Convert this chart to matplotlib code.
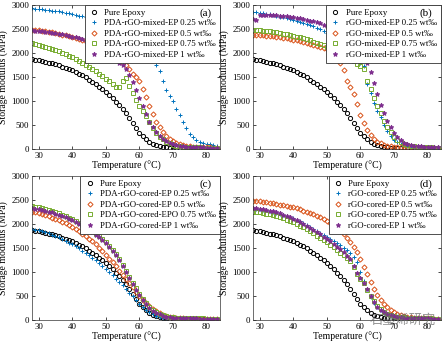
import matplotlib
matplotlib.use("Agg")
import matplotlib.pyplot as plt

plt.rcParams['font.family'] = ['Liberation Serif', 'DejaVu Serif']

temps = [28, 29, 30, 31, 32, 33, 34, 35, 36, 37,
         38, 39, 40, 41, 42, 43, 44, 45, 46, 47,
         48, 49, 50, 51, 52, 53, 54, 55, 56, 57,
         58, 59, 60, 61, 62, 63, 64, 65, 66, 67,
         68, 69, 70, 71, 72, 73, 74, 75, 76, 77,
         78, 79, 80, 81, 82, 83]

pure_epoxy = [1865, 1855, 1845, 1830, 1815, 1800, 1782, 1762, 1740, 1717,
              1692, 1665, 1636, 1604, 1570, 1533, 1493, 1445, 1398, 1350,
              1298, 1243, 1185, 1122, 1056, 986, 912, 835, 745, 645,
              535, 430, 340, 262, 198, 148, 110, 82, 61, 46,
              36, 29, 24, 20, 18, 16, 15, 14, 13, 12,
              12, 11, 11, 10, 10, 10]

# (a) PDA-rGO-mixed
a_025 = [2930, 2925, 2918, 2912, 2905, 2895, 2885, 2875, 2865, 2855,
         2840, 2825, 2810, 2795, 2780, 2765, 2750, 2735, 2720, 2705,
         2685, 2665, 2645, 2620, 2595, 2565, 2535, 2500, 2460, 2420,
         2380, 2330, 2270, 2200, 2120, 2030, 1910, 1760, 1620, 1420,
         1230, 1110, 990, 840, 700, 560, 440, 320, 240, 190,
         155, 130, 111, 95, 80, 72]
a_05 = [2480, 2475, 2470, 2460, 2450, 2440, 2428, 2415, 2400, 2385,
        2370, 2355, 2335, 2315, 2295, 2272, 2248, 2222, 2195, 2165,
        2132, 2096, 2056, 2012, 1965, 1912, 1855, 1800, 1740, 1660,
        1570, 1490, 1410, 1250, 1080, 900, 720, 570, 458, 350,
        270, 210, 165, 130, 105, 85, 70, 60, 52, 46,
        42, 38, 35, 33, 31, 30]
a_075 = [2200, 2185, 2170, 2150, 2130, 2110, 2085, 2060, 2035, 2005,
         1975, 1945, 1910, 1875, 1840, 1800, 1760, 1715, 1670, 1620,
         1570, 1520, 1465, 1410, 1350, 1300, 1290, 1420, 1470, 1310,
         1160, 1020, 900, 800, 680, 560, 440, 340, 260, 200,
         150, 115, 90, 72, 60, 52, 46, 42, 38, 35,
         33, 31, 29, 28, 27, 26]
a_1 = [2470, 2466, 2460, 2453, 2445, 2436, 2426, 2415, 2403, 2390,
       2376, 2360, 2343, 2325, 2305, 2283, 2260, 2234, 2207, 2177,
       2144, 2108, 2068, 2024, 1960, 1880, 1790, 1750, 1670, 1540,
       1400, 1220, 1056, 900, 730, 570, 450, 350, 270, 205,
       160, 125, 100, 82, 68, 58, 50, 45, 40, 37,
       34, 32, 30, 29, 28, 27]

# (b) rGO-mixed
b_025 = [2850, 2845, 2835, 2825, 2815, 2805, 2790, 2775, 2760, 2745,
         2730, 2712, 2695, 2675, 2655, 2632, 2608, 2582, 2555, 2525,
         2492, 2455, 2415, 2372, 2325, 2275, 2220, 2160, 2095, 2020,
         1940, 1850, 1790, 1730, 1350, 1160, 960, 800, 670, 490,
         370, 270, 190, 140, 105, 80, 65, 55, 48, 43,
         39, 36, 33, 31, 29, 27]
b_05 = [2380, 2378, 2375, 2370, 2364, 2357, 2349, 2340, 2330, 2319,
        2307, 2294, 2280, 2265, 2249, 2232, 2214, 2195, 2175, 2154,
        2132, 2108, 2083, 2055, 2010, 1940, 1800, 1650, 1420, 1300,
        1150, 930, 710, 540, 400, 290, 210, 155, 115, 90,
        72, 60, 52, 46, 42, 38, 35, 33, 31, 29,
        28, 27, 26, 25, 24, 23]
b_075 = [2480, 2477, 2472, 2466, 2459, 2450, 2440, 2430, 2418, 2405,
         2391, 2376, 2360, 2343, 2325, 2305, 2284, 2262, 2238, 2213,
         2187, 2159, 2130, 2099, 2066, 2031, 1994, 1955, 1914, 1870,
         1823, 1773, 1720, 1670, 1420, 1240, 1060, 900, 740, 590,
         460, 350, 260, 190, 140, 105, 80, 65, 55, 48,
         43, 39, 36, 33, 31, 29]
b_1 = [2700, 2690, 2800, 2798, 2795, 2792, 2788, 2783, 2777, 2770,
       2762, 2753, 2743, 2732, 2720, 2707, 2692, 2676, 2658, 2638,
       2616, 2592, 2566, 2537, 2505, 2470, 2430, 2385, 2335, 2278,
       2214, 2140, 2055, 1960, 1800, 1600, 1370, 1140, 910, 750,
       580, 450, 340, 250, 180, 135, 105, 85, 72, 62,
       55, 50, 46, 42, 40, 38]

# (c) PDA-rGO-cored
c_025 = [1900, 1885, 1870, 1850, 1830, 1805, 1780, 1750, 1720, 1685,
         1650, 1612, 1573, 1532, 1490, 1446, 1400, 1352, 1300, 1245,
         1188, 1128, 1065, 1000, 933, 864, 793, 720, 645, 568,
         490, 412, 338, 270, 210, 160, 120, 90, 68, 52,
         40, 32, 27, 23, 20, 18, 16, 15, 14, 13,
         12, 12, 11, 11, 10, 10]
c_05 = [2250, 2240, 2225, 2205, 2183, 2160, 2135, 2108, 2078, 2046,
        2012, 1975, 1935, 1893, 1848, 1800, 1750, 1697, 1641, 1582,
        1500, 1430, 1355, 1280, 1200, 1115, 1030, 945, 860, 770,
        680, 590, 505, 425, 350, 285, 230, 182, 142, 110,
        85, 66, 53, 44, 38, 33, 30, 28, 26, 25,
        24, 23, 22, 22, 21, 21]
c_075 = [2370, 2360, 2345, 2328, 2310, 2290, 2268, 2245, 2220, 2193,
         2164, 2133, 2100, 2064, 2026, 1985, 1941, 1894, 1850, 1800,
         1745, 1685, 1620, 1545, 1460, 1365, 1262, 1150, 1030, 905,
         780, 660, 545, 440, 350, 275, 215, 168, 132, 105,
         85, 70, 60, 52, 47, 43, 40, 38, 36, 34,
         33, 32, 31, 30, 30, 29]
c_1 = [2330, 2322, 2310, 2295, 2278, 2260, 2240, 2218, 2194, 2168,
       2140, 2110, 2078, 2043, 2006, 1966, 1923, 1877, 1830, 1780,
       1725, 1665, 1600, 1525, 1440, 1345, 1240, 1125, 1000, 870,
       745, 625, 515, 415, 328, 255, 195, 150, 115, 90,
       72, 60, 51, 45, 41, 38, 36, 34, 33, 32,
       31, 30, 30, 29, 29, 28]

# (d) rGO-cored
d_025 = [2330, 2322, 2312, 2300, 2287, 2272, 2256, 2238, 2218, 2196,
         2172, 2146, 2118, 2088, 2055, 2020, 1983, 1944, 1903, 1860,
         1815, 1768, 1720, 1680, 1640, 1600, 1555, 1510, 1460, 1400,
         1320, 1200, 1000, 810, 640, 480, 360, 270, 200, 150,
         115, 90, 72, 60, 52, 46, 42, 39, 36, 34,
         32, 31, 30, 29, 28, 27]
d_05 = [2480, 2476, 2470, 2462, 2453, 2443, 2432, 2420, 2406, 2391,
        2376, 2361, 2345, 2325, 2303, 2280, 2255, 2228, 2200, 2170,
        2138, 2102, 2062, 2018, 1968, 1912, 1850, 1782, 1710, 1632,
        1520, 1410, 1278, 1110, 950, 790, 650, 530, 424, 335,
        262, 205, 160, 125, 100, 80, 66, 56, 49, 44,
        40, 37, 35, 33, 31, 30]
d_075 = [2260, 2252, 2242, 2230, 2216, 2200, 2182, 2162, 2140, 2116,
         2090, 2062, 2032, 2000, 1965, 1928, 1889, 1848, 1805, 1760,
         1713, 1664, 1615, 1565, 1513, 1460, 1405, 1350, 1290, 1225,
         1100, 960, 860, 770, 630, 500, 390, 300, 230, 175,
         135, 105, 85, 70, 60, 53, 48, 44, 41, 38,
         36, 34, 33, 32, 31, 30]
d_1 = [2340, 2332, 2322, 2310, 2296, 2280, 2262, 2242, 2220, 2196,
       2170, 2142, 2112, 2080, 2045, 2008, 1968, 1926, 1882, 1836,
       1787, 1736, 1690, 1640, 1585, 1530, 1470, 1410, 1340, 1270,
       1120, 980, 870, 780, 640, 490, 370, 280, 210, 160,
       122, 95, 76, 63, 54, 48, 44, 41, 38, 36,
       34, 33, 32, 31, 30, 29]

panels = [
    ("(a)", "PDA-rGO-mixed-", ["EP 0.25", "EP 0.5", "EP 0.75", "EP 1"], [a_025, a_05, a_075, a_1]),
    ("(b)", "rGO-mixed-", ["EP 0.25", "EP 0.5", "EP 0.75", "EP 1"], [b_025, b_05, b_075, b_1]),
    ("(c)", "PDA-rGO-cored-", ["EP 0.25", "EP 0.5", "EPO 0.75", "EP 1"], [c_025, c_05, c_075, c_1]),
    ("(d)", "rGO-cored-", ["EP 0.25", "EP 0.5", "EP 0.75", "EP 1"], [d_025, d_05, d_075, d_1]),
]

colors = ['#0072BD', '#D95319', '#77AC30', '#7E2F8E']
markers = ['+', 'D', 's', '*']
sizes = [3.5, 2.6, 2.6, 3.4]

fig = plt.figure(figsize=(4.42, 3.43), dpi=100)
W, H = 442, 343
rects = [(32, 5), (253, 5), (32, 176), (253, 176)]

for (label, prefix, suffixes, series), (x0, y0) in zip(panels, rects):
    ax = fig.add_axes([x0 / W, 1 - (y0 + 144) / H, 188 / W, 144 / H])
    ax.plot(temps, pure_epoxy, ls='none', marker='o', ms=3, mfc='none', mec='black',
            mew=0.7, label='Pure Epoxy')
    for vals, suf, col, mk, sz in zip(series, suffixes, colors, markers, sizes):
        filled = mk in ('+', '*')
        ax.plot(temps, vals, ls='none', marker=mk, ms=sz,
                mfc=col if filled else 'none', mec=col, mew=0.7,
                label=prefix + suf + ' wt‰')
    ax.set_xlim(28, 84)
    ax.set_ylim(0, 3000)
    ax.set_xticks([30, 40, 50, 60, 70, 80])
    ax.set_yticks([0, 500, 1000, 1500, 2000, 2500, 3000])
    ax.tick_params(direction='in', top=True, right=True, labelsize=6.4,
                   length=2.5, width=0.5, pad=2)
    for sp in ax.spines.values():
        sp.set_linewidth(0.5)
        sp.set_color('#333333')
    ax.set_xlabel('Temperature (°C)', fontsize=7, labelpad=1)
    ax.set_ylabel('Storage modulus (MPa)', fontsize=7, labelpad=2)
    leg = ax.legend(loc='upper right', fontsize=6.3, frameon=True, fancybox=False,
                    framealpha=1, edgecolor='#333333', borderaxespad=0,
                    handlelength=1.2, handletextpad=0.6, labelspacing=0.26,
                    borderpad=0.45)
    leg.get_frame().set_linewidth(0.6)
    leg.set_zorder(5)
    ax.text(0.955, 0.945, label, transform=ax.transAxes, ha='right', va='center',
            fontsize=8, zorder=10)

# watermark of the source
fig.text(0.986, 0.066, '石墨烯研究', ha='right', va='center', fontsize=9.5,
         color='#666666', alpha=0.7, family=['Noto Sans CJK SC', 'DejaVu Sans'])

fig.savefig('out.png', dpi=100)
